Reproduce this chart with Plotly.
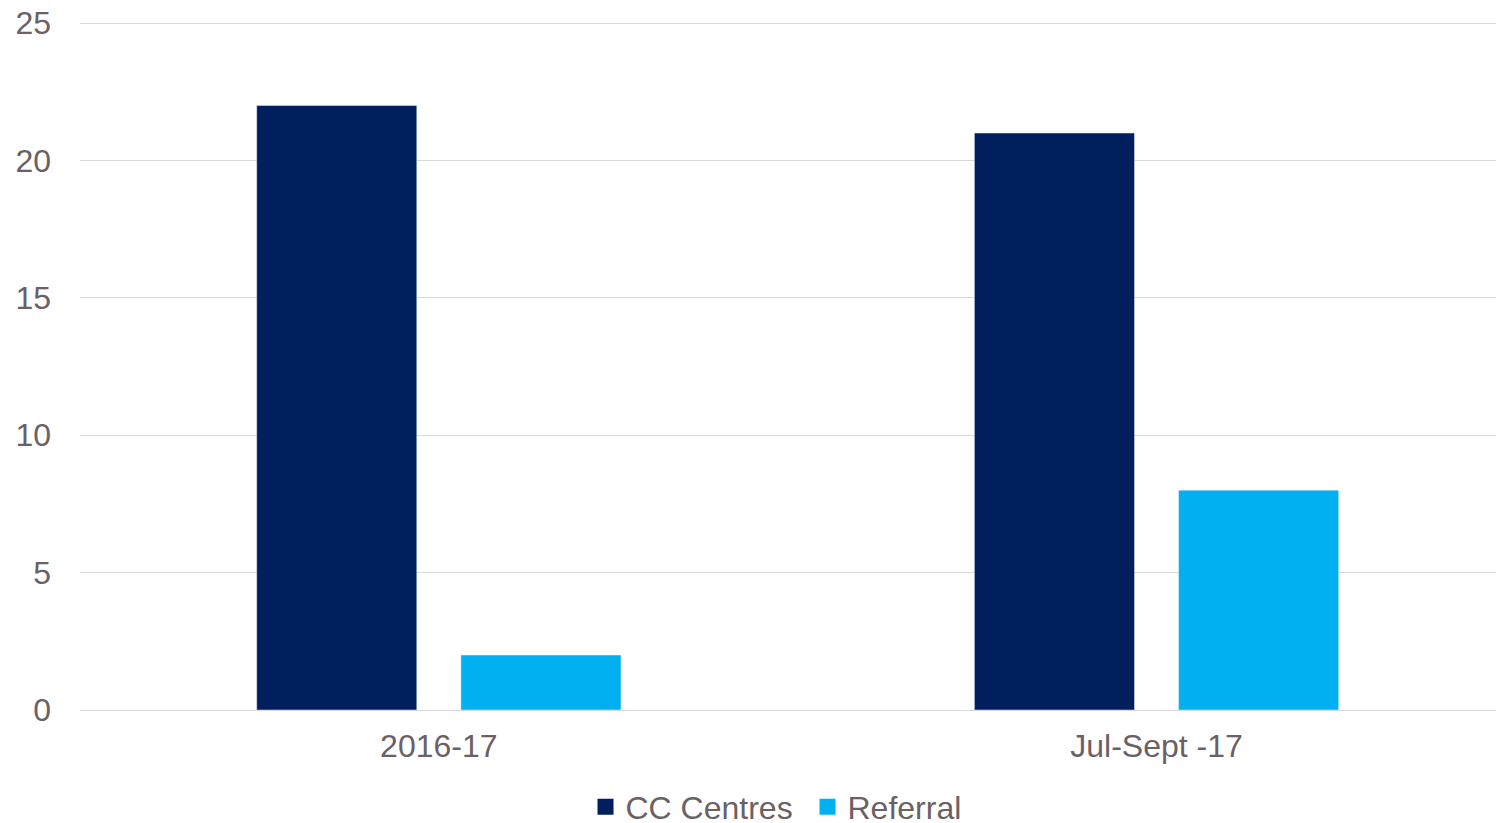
import plotly.graph_objects as go

categories = ["2016-17", "Jul-Sept -17"]
cc_centres = [22, 21]
referral = [2, 8]
y_ticks = [0, 5, 10, 15, 20, 25]

text_color = "#6b6164"
font_family = "Liberation Sans, Arial, sans-serif"
cc_color = "#001f5c"
ref_color = "#00b0f0"

fig = go.Figure()
fig.add_trace(go.Bar(name="CC Centres", x=categories, y=cc_centres, marker_color=cc_color, showlegend=False))
fig.add_trace(go.Bar(name="Referral", x=categories, y=referral, marker_color=ref_color, showlegend=False))
# legend entries with square symbols
fig.add_trace(go.Scatter(name="CC Centres", x=[None], y=[None], mode="markers",
                         marker=dict(symbol="square", size=16, color=cc_color)))
fig.add_trace(go.Scatter(name="Referral", x=[None], y=[None], mode="markers",
                         marker=dict(symbol="square", size=16, color=ref_color)))

fig.update_layout(
    width=1496, height=823,
    margin=dict(l=80, r=0, t=22, b=113, autoexpand=False),
    paper_bgcolor="white", plot_bgcolor="white",
    barmode="group", bargap=0.431, bargroupgap=0.216,
    font=dict(family=font_family, size=32, color=text_color),
    showlegend=True,
    legend=dict(orientation="h", x=0.357, xanchor="left", xref="paper",
                yref="container", y=0.0195, yanchor="middle",
                font=dict(size=32, color=text_color), entrywidth=177, traceorder="normal"),
)
fig.update_xaxes(range=[-0.5, 1.473], showgrid=False, showline=False, ticks="",
                 ticklabelstandoff=14, tickfont=dict(size=32, color=text_color), automargin=False)
fig.update_yaxes(range=[0, 25.04], tickvals=y_ticks, showgrid=True, gridcolor="#d9d9d9", gridwidth=1,
                 zeroline=True, zerolinecolor="#d9d9d9", zerolinewidth=1, showline=False,
                 ticks="", ticklabelstandoff=28, tickfont=dict(size=32, color=text_color), automargin=False)

fig.write_html("out.html", post_script="document.body.style.margin='0';",
               config={"displayModeBar": False})
